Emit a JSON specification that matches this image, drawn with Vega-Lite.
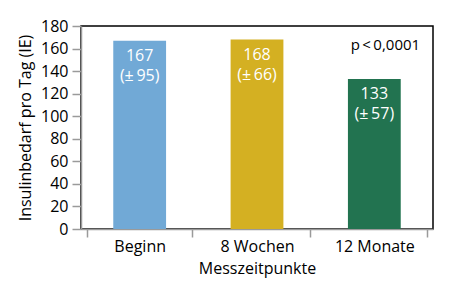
{
  "$schema": "https://vega.github.io/schema/vega-lite/v6.json",
  "width": 352,
  "height": 203,
  "autosize": {"type": "none"},
  "padding": {"left": 81, "top": 26, "right": 28, "bottom": 67},
  "background": "white",
  "config": {
    "font": "Open Sans",
    "view": {"stroke": "black", "strokeWidth": 1.5},
    "axis": {
      "domainColor": "#9a9a9a",
      "domainWidth": 1.5,
      "tickColor": "#9a9a9a",
      "tickWidth": 1.5,
      "labelColor": "black",
      "labelFontSize": 16,
      "titleFontSize": 16,
      "titleFontWeight": "normal",
      "titleColor": "black",
      "labelOverlap": false,
      "grid": false
    }
  },
  "data": {
    "values": [
      {"zeitpunkt": "Beginn", "insulin": 167, "label": "167\n(±\u200995)"},
      {"zeitpunkt": "8 Wochen", "insulin": 168, "label": "168\n(±\u200966)"},
      {"zeitpunkt": "12 Monate", "insulin": 133, "label": "133\n(±\u200957)"}
    ]
  },
  "encoding": {
    "x": {
      "field": "zeitpunkt",
      "type": "nominal",
      "sort": ["Beginn", "8 Wochen", "12 Monate"],
      "title": "Messzeitpunkte",
      "axis": {
        "labelAngle": 0,
        "tickBand": "extent",
        "tickSize": 8,
        "labelPadding": 1,
        "titlePadding": 6
      }
    },
    "y": {
      "field": "insulin",
      "type": "quantitative",
      "scale": {"domain": [0, 180], "nice": false, "zero": true},
      "title": "Insulinbedarf pro Tag (IE)",
      "axis": {
        "values": [0, 20, 40, 60, 80, 100, 120, 140, 160, 180],
        "labelOverlap": false,
        "labelFlush": false,
        "tickSize": 9,
        "labelPadding": 4,
        "titlePadding": 7
      }
    }
  },
  "layer": [
    {
      "mark": {"type": "bar", "width": {"band": 0.5}},
      "encoding": {
        "color": {
          "field": "zeitpunkt",
          "type": "nominal",
          "scale": {
            "domain": ["Beginn", "8 Wochen", "12 Monate"],
            "range": ["#71a9d6", "#d4b022", "#227350"]
          },
          "legend": null
        }
      }
    },
    {
      "mark": {
        "type": "text",
        "baseline": "top",
        "dy": 7,
        "color": "white",
        "fontSize": 16,
        "lineBreak": "\n",
        "lineHeight": 20
      },
      "encoding": {
        "text": {"field": "label"}
      }
    },
    {
      "data": {"values": [{"zeitpunkt": "12 Monate", "insulin": 159, "label": "p\u2009<\u20090,0001"}]},
      "mark": {"type": "text", "align": "right", "baseline": "alphabetic", "dx": -7, "fontSize": 15, "color": "black"},
      "encoding": {
        "x": {"field": "zeitpunkt", "type": "nominal", "bandPosition": 1, "sort": ["Beginn", "8 Wochen", "12 Monate"]},
        "text": {"field": "label"}
      }
    }
  ]
}
